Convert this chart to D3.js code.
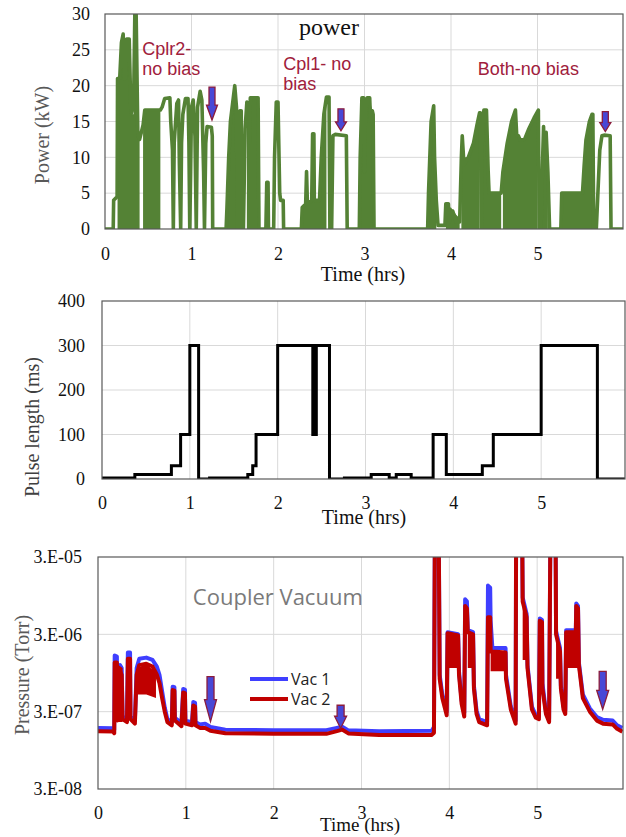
<!DOCTYPE html>
<html>
<head>
<meta charset="utf-8">
<script src="https://cdnjs.cloudflare.com/ajax/libs/d3/7.8.5/d3.min.js"></script>
<style>
  body { margin: 0; background: #fff; }
  svg { display: block; }
  .tick text { font-family: "Liberation Serif", "Times New Roman", serif; font-size: 18px; fill: #111; }
  .serif { font-family: "Liberation Serif", "Times New Roman", serif; }
  .note { font-family: "Liberation Sans", Arial, sans-serif; font-size: 18px; fill: #a0203c; }
</style>
</head>
<body>
<svg width="626" height="837"></svg>
<script>
// ---- data ----
const hours = [0, 1, 2, 3, 4, 5];
const powerTicks = [0, 5, 10, 15, 20, 25, 30];
const pulseTicks = [0, 100, 200, 300, 400];
const pressureTicks = [3e-8, 3e-7, 3e-6, 3e-5];

// power (kW) vs time (hrs)
const powerTrace = [
  [0,0],[0.095,0],[0.1,4],[0.14,4.5],[0.145,21],[0.17,21],[0.19,26],[0.21,27.2],[0.22,21],[0.24,21],
  [0.25,26.5],[0.28,26.5],[0.3,16],[0.33,17],[0.345,30],[0.36,30],[0.38,13],[0.4,12.5],[0.42,13.5],
  [0.44,14.5],[0.46,16.6],[0.64,16.6],[0.66,17],[0.69,18.2],[0.75,18.3],[0.76,15],[0.78,11],[0.79,0],
  [0.8,12],[0.83,17.5],[0.85,18],[0.86,9],[0.875,0],[0.885,12],[0.9,16],[0.93,18.2],[0.96,18.2],
  [0.97,12],[0.98,0],[0.99,8],[1.0,17],[1.02,18],[1.04,13],[1.055,0],[1.07,17],[1.1,19.2],[1.12,18],
  [1.14,8],[1.15,0],[1.165,12],[1.18,14.3],[1.23,14.2],[1.24,13],[1.245,0],[1.4,0],[1.41,3],[1.43,10],
  [1.45,15],[1.48,18],[1.5,20],[1.52,17],[1.53,0],[1.55,0],[1.56,16.5],[1.575,16.5],[1.585,0],[1.6,0],
  [1.62,14],[1.64,17.7],[1.66,17],[1.67,12],[1.68,18.3],[1.77,18.3],[1.78,0],[1.86,0],[1.87,6.5],
  [1.885,6.5],[1.89,0],[1.95,0],[1.96,10],[1.98,17.7],[2.0,17.7],[2.02,5],[2.03,4],[2.06,4],[2.065,0],
  [2.27,0],[2.28,3],[2.32,3.5],[2.33,8],[2.34,3.5],[2.39,4],[2.4,13.3],[2.415,13.3],[2.42,4],[2.48,4],
  [2.5,10],[2.53,16],[2.56,18.4],[2.59,18.4],[2.6,0],[2.62,0],[2.635,13],[2.66,13.2],[2.79,13],[2.8,0],
  [2.94,0],[2.95,10],[2.97,18.3],[2.99,18.3],[3.0,8],[3.01,16],[3.03,18.3],[3.06,18.3],[3.07,15],
  [3.09,16.5],[3.1,16],[3.11,0],[3.73,0],[3.74,5],[3.77,15],[3.8,17.2],[3.81,10],[3.83,4],[3.85,0.5],
  [3.93,0.5],[3.94,3.5],[3.97,3.5],[3.98,1],[4.02,2.5],[4.06,1],[4.1,1],[4.12,10],[4.13,13],[4.15,9],
  [4.2,10],[4.26,12],[4.3,14.5],[4.33,16.2],[4.34,16.2],[4.35,0],[4.36,12],[4.38,16.6],[4.41,16.6],
  [4.43,8],[4.44,5],[4.58,5],[4.6,8],[4.65,12],[4.7,15],[4.745,16.6],[4.76,13],[4.78,13],[4.8,12.4],
  [4.85,12.5],[4.9,14],[4.96,15.5],[5.01,16.6],[5.02,0],[5.04,0],[5.06,10],[5.07,14.3],[5.08,10],
  [5.1,13.5],[5.12,8],[5.14,0],[5.27,0],[5.28,5],[5.52,5],[5.54,9],[5.56,12.4],[5.6,15],[5.63,16],
  [5.64,16],[5.65,0],[5.68,0],[5.72,11],[5.745,13],[5.77,13.1],[5.84,13],[5.85,0],[6,0]
];

// stretches where the power trace flickers so fast it looks solid (top envelope, kW)
const powerBursts = [
  [[0.145,21],[0.17,21],[0.19,24],[0.21,26],[0.22,21],[0.24,21],[0.26,25],[0.28,24],[0.3,16],[0.33,16],[0.345,26],[0.36,26],[0.38,13],[0.4,12.5]],
  [[0.44,14],[0.46,16.6],[0.64,16.6]],
  [[1.41,3],[1.43,10],[1.45,15],[1.48,18],[1.5,20],[1.52,17]],
  [[1.64,17.7],[1.66,17],[1.67,12],[1.68,18.3],[1.77,18.3]],
  [[2.28,3],[2.32,3.5],[2.39,4],[2.48,4],[2.5,10],[2.53,16],[2.56,17.5]],
  [[2.95,14],[2.97,18],[3.0,14],[3.03,18],[3.06,18],[3.1,16]],
  [[3.74,5],[3.77,15],[3.8,17],[3.81,10],[3.83,4]],
  [[3.94,3],[4.0,3],[4.06,2],[4.1,1.5]],
  [[4.12,10],[4.2,10],[4.26,12],[4.3,14.5],[4.33,16]],
  [[4.36,12],[4.38,16],[4.41,16],[4.43,8],[4.44,5],[4.58,5]],
  [[4.6,8],[4.65,12],[4.7,15],[4.745,16.5],[4.76,13],[4.85,12.4],[4.9,14],[5.0,16.2]],
  [[5.05,10],[5.07,14],[5.1,13],[5.12,8]],
  [[5.28,5],[5.52,5],[5.54,9],[5.56,12],[5.6,15],[5.63,16]]
];

// pulse length (ms), value holds from t until next t
const pulseSteps = [
  [0,2],[0.374,10],[0.79,30],[0.895,100],[1.0,300],[1.10,0],[1.225,2],[1.66,10],[1.716,30],[1.754,100],
  [2.0,300],[2.40,100],[2.41,300],[2.415,100],[2.425,300],[2.43,100],[2.44,300],[2.59,0],[2.76,2],
  [3.065,10],[3.27,2],[3.35,10],[3.52,2],[3.77,100],[3.92,10],[4.33,30],[4.455,100],[5.0,300],[5.64,0],[6,0]
];

// coupler vacuum (Torr)
const vacTime = [0,0.17,0.185,0.19,0.215,0.22,0.245,0.25,0.27,0.28,0.33,0.34,0.365,0.37,0.42,0.44,0.47,0.55,0.62,0.67,
  0.70,0.73,0.76,0.79,0.84,0.85,0.87,0.875,0.95,0.97,0.99,0.995,1.07,1.085,1.105,1.11,1.16,1.22,1.28,1.45,
  2.0,2.6,2.72,2.78,2.85,3.2,3.8,3.825,3.835,3.88,3.89,3.92,3.97,3.98,4.1,4.11,4.14,4.17,4.18,4.2,
  4.21,4.27,4.28,4.31,4.34,4.43,4.44,4.465,4.47,4.49,4.64,4.645,4.7,4.755,4.76,4.83,4.835,4.88,4.89,4.94,
  4.985,5.02,5.03,5.055,5.06,5.1,5.136,5.15,5.21,5.215,5.26,5.27,5.3,5.32,5.33,5.44,5.445,5.465,5.475,5.52,
  5.6,5.68,5.75,5.86,5.91,5.97];
const vac1 = [1.85e-7,1.83e-7,1.75e-7,1.6e-6,1.55e-6,2.5e-7,2.8e-7,1.2e-6,1.1e-6,2.6e-7,2.45e-7,1.75e-6,1.75e-6,2.6e-7,2.3e-7,1.1e-6,1.45e-6,1.5e-6,1.4e-6,1.15e-6,
  9e-7,5.5e-7,3.4e-7,2.4e-7,2.2e-7,6.3e-7,6.2e-7,2.5e-7,2.15e-7,5.9e-7,5.8e-7,2.3e-7,2.2e-7,4.0e-7,3.9e-7,2.2e-7,2.05e-7,2.1e-7,1.9e-7,1.75e-7,
  1.73e-7,1.73e-7,1.85e-7,1.92e-7,1.72e-7,1.68e-7,1.7e-7,1.9e-7,5e-5,5e-5,9e-7,5e-7,3.0e-7,3.2e-6,3.0e-6,1.0e-6,4.2e-7,2.9e-7,8.5e-6,8e-6,
  3.4e-6,3.2e-6,6.5e-7,3.1e-7,2.4e-7,2.2e-7,1.28e-5,1.2e-5,4.5e-6,2.0e-6,2.0e-6,9e-7,3.5e-7,2.3e-7,5e-5,5e-5,9e-6,5.5e-6,1.2e-6,3.5e-7,
  2.7e-7,2.6e-7,4.8e-6,4.6e-6,7e-7,3.0e-7,2.4e-7,5e-5,5e-5,3.3e-6,2.0e-6,6.5e-7,3.5e-7,3.1e-7,3.4e-6,3.4e-6,7.5e-6,7e-6,1.3e-6,5.0e-7,
  3.3e-7,2.55e-7,2.35e-7,2.3e-7,2.0e-7,1.85e-7];
const vac2 = [1.68e-7,1.66e-7,1.58e-7,1.3e-6,1.3e-6,2.3e-7,2.5e-7,1.0e-6,9e-7,2.4e-7,2.2e-7,1.45e-6,1.45e-6,2.4e-7,2.1e-7,9e-7,1.2e-6,1.25e-6,1.15e-6,9e-7,
  7e-7,4.5e-7,3e-7,2.2e-7,2.0e-7,5.7e-7,5.6e-7,2.3e-7,1.95e-7,5.3e-7,5.2e-7,2.1e-7,2.0e-7,3.6e-7,3.5e-7,2.0e-7,1.85e-7,1.85e-7,1.7e-7,1.58e-7,
  1.55e-7,1.55e-7,1.68e-7,1.76e-7,1.57e-7,1.5e-7,1.5e-7,1.6e-7,5e-5,5e-5,8e-7,4.5e-7,2.7e-7,3.1e-6,2.9e-6,9e-7,3.8e-7,2.6e-7,7e-6,6.5e-6,
  3.2e-6,3.0e-6,6e-7,2.8e-7,2.2e-7,2.0e-7,5e-6,5e-6,1.8e-6,1.8e-6,1.75e-6,8e-7,3.2e-7,2.1e-7,5e-5,5e-5,8e-6,5e-6,1.1e-6,3.2e-7,
  2.5e-7,2.4e-7,4.5e-6,4.3e-6,6e-7,2.8e-7,2.2e-7,5e-5,5e-5,3.0e-6,1.8e-6,6e-7,3.2e-7,2.8e-7,3.2e-6,3.2e-6,7e-6,6.5e-6,1.2e-6,4.5e-7,
  3.0e-7,2.3e-7,2.1e-7,2.05e-7,1.8e-7,1.65e-7];
// stretches where Vac 2 flickers so fast it looks solid: [t, low, high]
const vacBands = [
  [[0.19,2.2e-7,1.3e-6],[0.28,2.2e-7,1.1e-6]],
  [[0.45,5e-7,1.1e-6],[0.55,5e-7,1.25e-6],[0.66,4.5e-7,9.5e-7]],
  [[3.98,1.1e-6,3.1e-6],[4.1,1.1e-6,2.9e-6]],
  [[4.21,1.1e-6,3.2e-6],[4.27,1.1e-6,3.0e-6]],
  [[4.47,1.0e-6,1.8e-6],[4.64,1.0e-6,1.75e-6]],
  [[4.835,1.4e-6,8e-6],[4.89,1.4e-6,5e-6]],
  [[5.215,8e-7,3e-6],[5.27,8e-7,1.8e-6]],
  [[5.33,1.1e-6,3.2e-6],[5.475,1.1e-6,3.2e-6]]
];

// annotations: arrow tips [t, value] and labels
const powerArrows = [[1.237,15.2],[2.728,13.7],[5.784,13.6]];
const powerArrowLen = [33, 22, 20];
const vacArrows = [[1.281,2.23e-7],[2.762,1.83e-7],[5.746,3.21e-7]];
const vacArrowLen = [45, 23, 38];
const powerNotes = [
  {t: 0.43, v: 24.3, lines: ['Cplr2-', 'no bias']},
  {t: 2.06, v: 22.2, lines: ['Cpl1- no', 'bias']},
  {t: 4.31, v: 21.5, lines: ['Both-no bias']}
];

// ---- drawing ----
const svg = d3.select('svg');
svg.append('rect').attr('width', 626).attr('height', 837).attr('fill', '#fff');
const defs = svg.append('defs');

function panel(id, box, x, y, yVals, yFmt, padX, padY) {
  const g = svg.append('g');
  // grid
  g.append('g').selectAll('line').data(hours.filter(d => d > 0)).join('line')
    .attr('x1', d => x(d)).attr('x2', d => x(d))
    .attr('y1', box.top).attr('y2', box.bottom)
    .attr('stroke', '#d9d9d9').attr('stroke-width', 1);
  g.append('g').selectAll('line').data(yVals.slice(1, -1)).join('line')
    .attr('x1', box.left).attr('x2', box.right)
    .attr('y1', d => y(d)).attr('y2', d => y(d))
    .attr('stroke', '#d9d9d9').attr('stroke-width', 1);

  defs.append('clipPath').attr('id', id).append('rect')
    .attr('x', box.left).attr('y', box.top)
    .attr('width', box.right - box.left).attr('height', box.bottom - box.top);

  const xa = g.append('g').attr('transform', `translate(0,${box.bottom})`)
    .call(d3.axisBottom(x).tickValues(hours).tickSize(0).tickPadding(padX).tickFormat(d3.format('d')));
  xa.select('.domain').remove();
  const ya = g.append('g').attr('transform', `translate(${box.left},0)`)
    .call(d3.axisLeft(y).tickValues(yVals).tickSize(0).tickPadding(padY).tickFormat(yFmt));
  ya.select('.domain').remove();

  const plot = g.append('g').attr('clip-path', `url(#${id})`);
  const frame = () => g.append('rect')
    .attr('x', box.left).attr('y', box.top)
    .attr('width', box.right - box.left).attr('height', box.bottom - box.top)
    .attr('fill', 'none').attr('stroke', '#595959').attr('stroke-width', 1.2);
  return {g, plot, frame};
}

function downArrow(g, cx, tip, len, head, w, sw) {
  const top = tip - len, hy = tip - head;
  g.append('path')
    .attr('d', `M${cx - sw / 2},${top}L${cx + sw / 2},${top}L${cx + sw / 2},${hy}L${cx + w / 2},${hy}` +
      `L${cx},${tip}L${cx - w / 2},${hy}L${cx - sw / 2},${hy}Z`)
    .attr('fill', '#4848d6').attr('stroke', '#8c1c3c').attr('stroke-width', 1.3)
    .attr('stroke-linejoin', 'miter');
}

// --- top: power ---
const pBox = {left: 105, right: 623, top: 14, bottom: 229};
const xP = d3.scaleLinear().domain([0, 6]).range([105, 624]);
const yP = d3.scaleLinear().domain([0, 30]).range([229, 14]);
const P = panel('clipP', pBox, xP, yP, powerTicks, d3.format('d'), 18, 15);
const green = '#548235';
P.plot.selectAll('path.burst').data(powerBursts).join('path').attr('class', 'burst')
  .attr('d', d3.area().x(d => xP(d[0])).y0(yP(0)).y1(d => yP(d[1])))
  .attr('fill', green);
P.plot.append('path').datum(powerTrace)
  .attr('d', d3.line().x(d => xP(d[0])).y(d => yP(d[1])))
  .attr('fill', 'none').attr('stroke', green).attr('stroke-width', 3.6)
  .attr('stroke-linejoin', 'round');
P.frame();
powerArrows.forEach((d, i) => downArrow(P.g, xP(d[0]), yP(d[1]), powerArrowLen[i], i === 0 ? 15 : 9, 11, 6));
powerNotes.forEach(n => {
  const t = P.g.append('text').attr('class', 'note').attr('x', xP(n.t)).attr('y', yP(n.v));
  n.lines.forEach((s, i) => t.append('tspan').attr('x', xP(n.t)).attr('dy', i ? 20 : 0).text(s));
});
P.g.append('text').attr('class', 'serif').attr('x', 329).attr('y', 35).attr('text-anchor', 'middle')
  .attr('font-size', 24).attr('fill', '#111').text('power');
P.g.append('text').attr('class', 'serif').attr('x', 363).attr('y', 281).attr('text-anchor', 'middle')
  .attr('font-size', 20).attr('fill', '#111').text('Time (hrs)');
P.g.append('text').attr('class', 'serif').attr('transform', 'translate(49,135) rotate(-90)')
  .attr('text-anchor', 'middle').attr('font-size', 20).attr('fill', '#595959').text('Power (kW)');

// --- middle: pulse length ---
const lBox = {left: 102, right: 625, top: 301, bottom: 479};
const xL = d3.scaleLinear().domain([0, 6]).range([102, 629]);
const yL = d3.scaleLinear().domain([0, 400]).range([479, 301]);
const L = panel('clipL', lBox, xL, yL, pulseTicks, d3.format('d'), 17, 17);
L.plot.append('path').datum(pulseSteps)
  .attr('d', d3.line().curve(d3.curveStepAfter).x(d => xL(d[0])).y(d => yL(d[1])))
  .attr('fill', 'none').attr('stroke', '#000').attr('stroke-width', 3);
L.frame();
L.g.append('text').attr('class', 'serif').attr('x', 364).attr('y', 524).attr('text-anchor', 'middle')
  .attr('font-size', 20).attr('fill', '#111').text('Time (hrs)');
L.g.append('text').attr('class', 'serif').attr('transform', 'translate(39,427) rotate(-90)')
  .attr('text-anchor', 'middle').attr('font-size', 20).attr('fill', '#404040').text('Pulse length (ms)');

// --- bottom: coupler vacuum ---
const vBox = {left: 98, right: 623, top: 557, bottom: 789};
const xV = d3.scaleLinear().domain([0, 6]).range([98, 625]);
const yV = d3.scaleLog().domain([3e-8, 3e-5]).range([789, 557]);
const expFmt = d => '3.E-' + String(-Math.round(Math.log10(d / 3))).padStart(2, '0');
const V = panel('clipV', vBox, xV, yV, pressureTicks, expFmt, 17, 16);
const vacLine = vals => d3.line().x((t, i) => xV(t)).y((t, i) => yV(vals[i]))(vacTime);
V.plot.append('path').attr('d', vacLine(vac1))
  .attr('fill', 'none').attr('stroke', '#3f3fff').attr('stroke-width', 4).attr('stroke-linejoin', 'round');
V.plot.selectAll('path.band').data(vacBands).join('path').attr('class', 'band')
  .attr('d', d3.area().x(d => xV(d[0])).y0(d => yV(d[1])).y1(d => yV(d[2])))
  .attr('fill', '#c00000');
V.plot.append('path').attr('d', vacLine(vac2))
  .attr('fill', 'none').attr('stroke', '#c00000').attr('stroke-width', 4).attr('stroke-linejoin', 'round');
V.frame();
vacArrows.forEach((d, i) => downArrow(V.g, xV(d[0]), yV(d[1]), vacArrowLen[i], [22, 12, 19][i], 12, 7));
V.g.append('text').attr('x', xV(1.08)).attr('y', yV(7.1e-6))
  .attr('font-family', '"Open Sans", "Noto Sans", sans-serif').attr('font-size', 22).attr('fill', '#7a7a7a')
  .text('Coupler Vacuum');
const legend = V.g.append('g').attr('transform', 'translate(250,679)');
[['Vac 1', '#3f3fff'], ['Vac 2', '#c00000']].forEach((d, i) => {
  legend.append('line').attr('x1', 0).attr('x2', 38).attr('y1', i * 20).attr('y2', i * 20)
    .attr('stroke', d[1]).attr('stroke-width', 4);
  legend.append('text').attr('x', 41).attr('y', i * 20 + 6)
    .attr('font-family', '"Open Sans", "Noto Sans", sans-serif').attr('font-size', 16).attr('fill', '#222')
    .text(d[0]);
});
V.g.append('text').attr('class', 'serif').attr('x', 360).attr('y', 831).attr('text-anchor', 'middle')
  .attr('font-size', 19).attr('fill', '#111').text('Time (hrs)');
V.g.append('text').attr('class', 'serif').attr('transform', 'translate(29,675) rotate(-90)')
  .attr('text-anchor', 'middle').attr('font-size', 20).attr('fill', '#595959').text('Pressure (Torr)');
</script>
</body>
</html>
